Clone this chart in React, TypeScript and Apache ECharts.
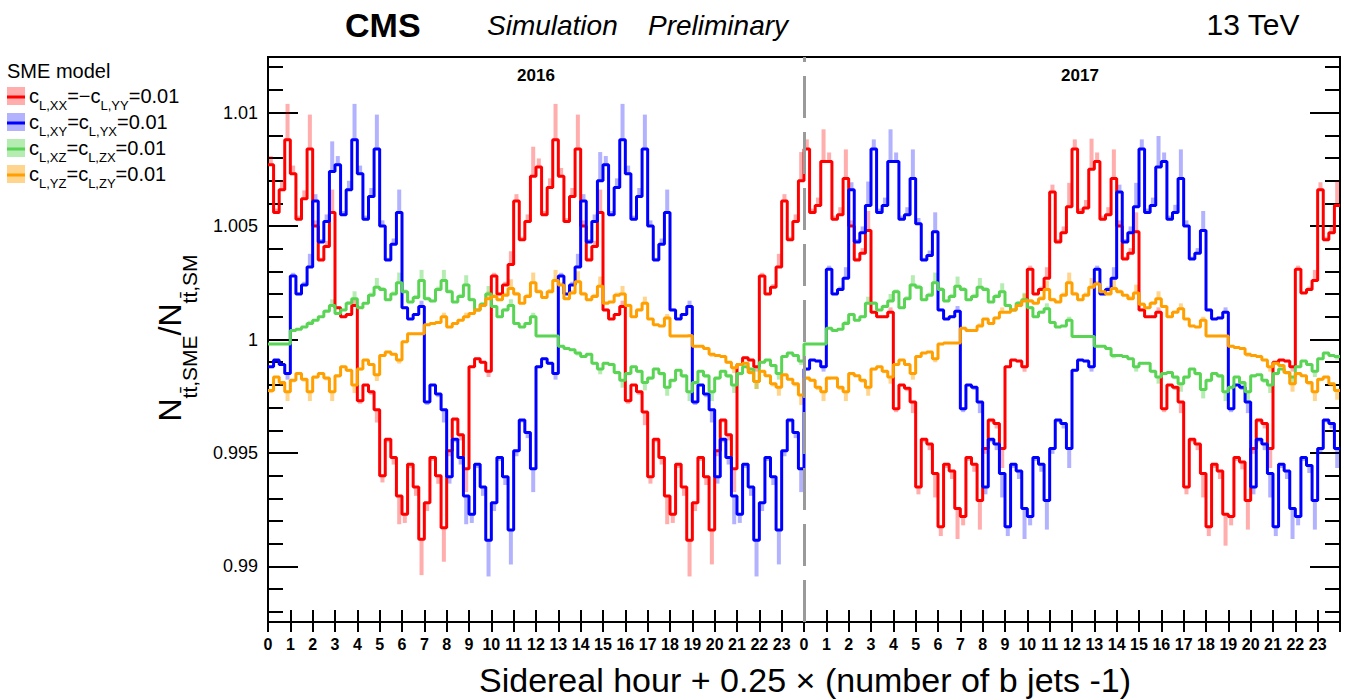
import React, { useEffect, useRef } from 'react';
import * as echarts from 'echarts';

// ---------- data (deviation from 1, in units of 0.001; 4 bins per sidereal hour) ----------
const HOUR_LABELS = Array.from({ length: 24 }, (_, i) => String(i));
const YEAR_LABELS = ['2016', '2017'];
const Y_TICK_VALUES = [0.99, 0.995, 1, 1.005, 1.01];
const BAND_FRAC = [0.05, 0.03, 0.06, 0.18];

const red2016 = [
  7.7, 5.6, 6.6, 8.8, 7.3, 5.3, 6.2, 8.4, 5.0, 3.5, 4.1, 5.6, 1.4, 1.0, 1.1, 1.5,
  -2.7, -2.0, -2.3, -3.1, -6.0, -4.4, -5.2, -6.9, -7.7, -5.5, -6.5, -8.8, -7.2, -5.2, -6.0, -8.3,
  -4.9, -3.5, -4.2, -5.7, -1.2, -0.85, -1.0, -1.4, 2.8, 2.0, 2.4, 3.3, 6.1, 4.4, 5.2, 7.2,
  7.6, 5.5, 6.7, 8.8, 7.2, 5.2, 6.3, 8.4, 5.0, 3.5, 4.1, 5.6, 1.3, 0.9, 1.1, 1.45,
  -2.7, -2.0, -2.3, -3.2, -6.05, -4.4, -5.2, -6.9, -7.7, -5.5, -6.5, -8.85, -7.2, -5.2, -6.05, -8.4,
  -4.9, -3.55, -4.2, -5.7, -1.1, -0.8, -0.9, -1.2, 2.8, 2.0, 2.3, 3.2, 6.1, 4.4, 5.2, 7.0,
];
const red2017 = [
  8.4, 5.6, 5.9, 7.85, 7.85, 5.3, 5.5, 7.1, 5.0, 3.5, 3.8, 4.8, 1.2, 1.0, 1.0, 1.2,
  -3.05, -2.0, -2.15, -2.75, -6.5, -4.4, -4.6, -5.9, -8.25, -5.5, -5.8, -7.45, -7.8, -5.2, -5.5, -7.1,
  -4.8, -3.55, -3.7, -4.8, -1.2, -0.9, -0.95, -1.2, 3.1, 2.0, 2.2, 2.7, 6.5, 4.3, 4.7, 5.85,
  8.4, 5.6, 5.8, 7.5, 7.85, 5.3, 5.5, 7.1, 5.0, 3.55, 3.8, 4.75, 1.3, 1.0, 1.0, 1.2,
  -3.05, -2.0, -2.1, -2.75, -6.5, -4.4, -4.6, -5.9, -8.25, -5.5, -5.8, -7.7, -7.8, -5.2, -5.4, -7.1,
  -4.8, -3.55, -3.7, -4.8, -1.0, -0.9, -0.95, -1.2, 3.1, 2.05, 2.2, 2.6, 6.6, 4.4, 4.7, 5.9,
];
const blue2016 = [
  -1.2, -0.9, -1.1, -1.5, 2.8, 2.0, 2.4, 3.2, 6.1, 4.3, 5.2, 7.4, 7.7, 5.5, 6.6, 8.8,
  7.3, 5.3, 6.3, 8.4, 5.0, 3.5, 4.2, 5.6, 1.4, 0.9, 1.1, 1.45, -2.75, -2.0, -2.4, -3.1,
  -6.05, -4.4, -5.2, -6.9, -7.7, -5.5, -6.5, -8.85, -7.2, -5.2, -6.05, -8.4, -4.9, -3.55, -4.1, -5.7,
  -1.2, -0.85, -1.05, -1.5, 2.8, 2.0, 2.4, 3.2, 6.1, 4.3, 5.2, 7.0, 7.7, 5.5, 6.7, 8.8,
  7.3, 5.3, 6.3, 8.4, 5.0, 3.5, 4.2, 5.6, 1.3, 0.9, 1.1, 1.45, -2.75, -2.0, -2.4, -3.1,
  -6.05, -4.4, -5.2, -6.9, -7.7, -5.5, -6.5, -8.85, -7.2, -5.2, -6.05, -8.4, -4.9, -3.55, -4.1, -5.7,
];
const blue2017 = [
  -1.3, -0.9, -0.95, -1.2, 3.1, 2.0, 2.2, 2.7, 6.6, 4.3, 4.7, 5.9, 8.4, 5.6, 5.9, 7.85,
  7.85, 5.3, 5.5, 7.1, 5.1, 3.5, 3.7, 4.75, 1.3, 0.9, 1.0, 1.25, -3.05, -2.0, -2.1, -2.75,
  -6.5, -4.4, -4.6, -5.9, -8.25, -5.5, -5.8, -7.45, -7.8, -5.2, -5.5, -7.1, -4.8, -3.55, -3.7, -4.8,
  -1.35, -0.9, -0.95, -1.2, 3.1, 2.0, 2.2, 2.7, 6.5, 4.3, 4.7, 5.85, 8.4, 5.6, 5.9, 7.6,
  7.85, 5.3, 5.6, 7.1, 5.0, 3.55, 3.8, 4.8, 1.3, 0.9, 0.95, 1.2, -3.05, -2.0, -2.1, -2.75,
  -6.5, -4.4, -4.6, -5.9, -8.25, -5.5, -5.8, -7.45, -7.8, -5.2, -5.55, -7.1, -4.8, -3.55, -3.7, -4.8,
];
const green2016 = [
  -0.2, -0.2, -0.2, -0.2, 0.4, 0.45, 0.55, 0.7, 0.85, 1.0, 1.25, 1.5, 1.15, 1.3, 1.6, 1.8,
  1.4, 1.6, 1.95, 2.3, 2.2, 1.75, 2.0, 2.5, 2.1, 1.65, 1.85, 2.6, 1.8, 1.7, 2.2, 2.6,
  2.1, 1.65, 1.9, 2.4, 1.75, 1.3, 1.55, 2.0, 1.45, 1.0, 1.3, 1.5, 0.7, 0.55, 0.7, 1.0,
  0.15, 0.15, 0.15, 0.15, -0.3, -0.4, -0.45, -0.6, -0.75, -0.65, -1.05, -1.3, -1.05, -1.1, -1.45, -1.8,
  -1.5, -1.2, -1.4, -1.9, -1.7, -1.3, -1.5, -2.1, -1.8, -1.35, -1.6, -2.3, -1.9, -1.4, -1.6, -2.3,
  -1.7, -1.4, -1.6, -2.0, -1.5, -1.2, -1.3, -1.85, -1.0, -0.9, -1.15, -1.5, -0.75, -0.6, -0.7, -0.95,
];
const green2017 = [
  -0.2, -0.2, -0.2, -0.2, 0.5, 0.4, 0.45, 0.7, 1.1, 0.85, 1.0, 1.6, 1.6, 1.3, 1.45, 1.7,
  2.1, 1.4, 1.8, 2.4, 2.3, 1.75, 1.95, 2.5, 2.2, 1.7, 1.9, 2.35, 2.2, 1.75, 1.9, 2.3,
  2.2, 1.65, 1.9, 2.1, 1.5, 1.3, 1.6, 1.75, 1.4, 1.0, 1.2, 1.35, 0.75, 0.55, 0.6, 0.85,
  0.13, 0.13, 0.13, 0.13, -0.3, -0.3, -0.4, -0.7, -0.7, -0.75, -0.85, -1.2, -1.05, -1.05, -1.4, -1.65,
  -1.5, -1.45, -1.65, -1.95, -1.65, -1.3, -1.5, -2.2, -1.8, -1.5, -1.6, -2.3, -2.1, -1.65, -1.9, -2.3,
  -1.6, -1.55, -1.8, -2.0, -1.5, -1.3, -1.45, -1.65, -1.2, -0.95, -1.1, -1.4, -0.85, -0.6, -0.7, -0.75,
];
const orange2016 = [
  -2.25, -1.65, -1.9, -2.3, -1.8, -1.5, -1.75, -2.3, -1.65, -1.5, -1.7, -2.3, -1.6, -1.2, -1.35, -2.0,
  -1.3, -0.9, -1.1, -1.55, -0.7, -0.55, -0.65, -0.9, -0.1, 0.25, 0.25, 0.25, 0.65, 0.7, 0.75, 1.0,
  0.55, 0.7, 0.85, 1.0, 1.15, 1.3, 1.5, 1.8, 1.9, 1.75, 1.95, 2.25, 2.0, 1.6, 1.9, 2.5,
  2.1, 1.85, 2.1, 2.6, 2.4, 1.8, 2.05, 2.55, 2.0, 1.75, 1.9, 2.35, 1.6, 1.65, 1.95, 2.0,
  1.5, 1.0, 1.3, 1.6, 0.9, 0.65, 0.6, 0.95, 0.15, 0.15, 0.15, 0.18, -0.3, -0.3, -0.4, -0.65,
  -0.7, -0.75, -1.0, -1.25, -1.1, -1.05, -1.45, -1.85, -1.4, -1.6, -1.95, -2.1, -1.55, -1.75, -1.95, -2.45,
];
const orange2017 = [
  -1.7, -1.8, -2.1, -2.3, -1.7, -1.7, -2.1, -2.3, -1.5, -1.6, -1.8, -2.1, -1.3, -1.2, -1.4, -1.65,
  -1.1, -0.9, -1.1, -1.5, -0.75, -0.6, -0.55, -0.85, -0.2, -0.15, -0.15, -0.15, 0.5, 0.4, 0.4, 0.6,
  0.9, 0.7, 0.95, 1.2, 1.2, 1.3, 1.5, 1.7, 1.7, 1.6, 1.8, 2.2, 1.75, 1.65, 1.95, 2.5,
  2.0, 1.75, 1.95, 2.3, 2.45, 2.1, 2.0, 2.25, 2.1, 1.95, 1.8, 2.05, 1.55, 1.4, 1.6, 1.8,
  1.45, 1.0, 1.2, 1.35, 0.9, 0.6, 0.55, 0.85, 0.15, 0.15, 0.15, 0.15, -0.3, -0.35, -0.4, -0.65,
  -0.7, -0.75, -0.9, -1.2, -1.05, -1.15, -1.45, -1.95, -1.5, -1.6, -1.9, -2.3, -1.75, -1.65, -1.95, -2.25,
];

const SERIES = [
  { name: 'xx', values: [...red2016, ...red2017], color: '#ff0000', band: 'rgba(255,0,0,0.32)',
    label: '{c|c}{s|L,XX}{c|=\u2212c}{s|L,YY}{c|=0.01}' },
  { name: 'xy', values: [...blue2016, ...blue2017], color: '#0000ff', band: 'rgba(0,0,255,0.3)',
    label: '{c|c}{s|L,XY}{c|=c}{s|L,YX}{c|=0.01}' },
  { name: 'xz', values: [...green2016, ...green2017], color: '#59d454', band: 'rgba(89,212,84,0.45)',
    label: '{c|c}{s|L,XZ}{c|=c}{s|L,ZX}{c|=0.01}' },
  { name: 'yz', values: [...orange2016, ...orange2017], color: '#ffa000', band: 'rgba(255,160,0,0.45)',
    label: '{c|c}{s|L,YZ}{c|=c}{s|L,ZY}{c|=0.01}' },
];

const FONT = '"Liberation Sans", Arial, Helvetica, sans-serif';
const BIN = 0.25;
const Y_MIN = 0.98755;
const Y_MAX = 1.01245;

function fmtY(v: number) {
  return String(parseFloat(v.toFixed(4)));
}

export default function App() {
  const ref = useRef<HTMLDivElement>(null);
  useEffect(() => {
    if (!ref.current) return;
    const chart = echarts.init(ref.current, null, { renderer: 'svg' });

    const minorTicks: number[] = [];
    for (let k = -12; k <= 12; k++) minorTicks.push(1 + k / 1000);

    const series: any[] = [];
    SERIES.forEach((s) => {
      const bandData = s.values.map((d, i) => {
        const f = BAND_FRAC[i % 4];
        const x0 = i * BIN;
        return [x0 + 0.035, x0 + BIN - 0.035, 1 + d / 1000, 1 + (d * (1 + f)) / 1000];
      });
      series.push({
        type: 'custom',
        silent: true,
        z: 1,
        xAxisIndex: 0,
        yAxisIndex: 0,
        data: bandData,
        encode: { x: [0, 1], y: [2, 3] },
        renderItem: (_p: any, api: any) => {
          const a = api.coord([api.value(0), api.value(2)]);
          const b = api.coord([api.value(1), api.value(3)]);
          return {
            type: 'rect',
            shape: {
              x: a[0],
              y: Math.min(a[1], b[1]),
              width: b[0] - a[0],
              height: Math.max(1, Math.abs(b[1] - a[1])),
            },
            style: { fill: s.band },
          };
        },
      });
    });
    SERIES.forEach((s, si) => {
      const pts: number[][] = s.values.map((d, i) => [i * BIN, 1 + d / 1000]);
      pts.push([s.values.length * BIN, 1 + s.values[s.values.length - 1] / 1000]);
      const line: any = {
        type: 'line',
        name: s.name,
        step: 'end',
        data: pts,
        showSymbol: false,
        symbol: 'none',
        z: 3,
        xAxisIndex: 0,
        yAxisIndex: 0,
        lineStyle: { color: s.color, width: 3 },
        itemStyle: { color: s.color },
      };
      if (si === SERIES.length - 1) {
        line.markLine = {
          silent: true,
          symbol: 'none',
          label: { show: false },
          lineStyle: { color: '#9a9a9a', width: 3, type: [42, 14] },
          data: [{ xAxis: 24 }],
        };
      }
      series.push(line);
    });

    const graphic: any[] = [
      { type: 'text', left: 345, top: 8, style: { text: 'CMS', font: `bold 34px ${FONT}`, fill: '#000' } },
      { type: 'text', left: 487, top: 11, style: { text: 'Simulation', font: `italic 28px ${FONT}`, fill: '#000' } },
      { type: 'text', left: 648, top: 11, style: { text: 'Preliminary', font: `italic 28px ${FONT}`, fill: '#000' } },
      { type: 'text', right: 45, top: 9, style: { text: '13 TeV', font: `30px ${FONT}`, fill: '#000' } },
      { type: 'text', x: 536, y: 75, style: { text: YEAR_LABELS[0], font: `bold 17px ${FONT}`, fill: '#000', align: 'center', verticalAlign: 'middle' } },
      { type: 'text', x: 1080, y: 75, style: { text: YEAR_LABELS[1], font: `bold 17px ${FONT}`, fill: '#000', align: 'center', verticalAlign: 'middle' } },
      { type: 'text', x: 805, y: 680, style: { text: 'Sidereal hour + 0.25 \u00d7 (number of b jets -1)', font: `34px ${FONT}`, fill: '#000', align: 'center', verticalAlign: 'middle' } },
      {
        type: 'text', x: 177, y: 338, rotation: Math.PI / 2,
        style: {
          text: '{n|N}{s|tt\u0304,SME}{n|/N}{s|tt\u0304,SM}',
          align: 'center', verticalAlign: 'middle', fill: '#000',
          rich: {
            n: { fontSize: 32, fontFamily: FONT, lineHeight: 32, verticalAlign: 'top', fill: '#000' },
            s: { fontSize: 21, fontFamily: FONT, verticalAlign: 'top', padding: [25, 0, 0, 0], fill: '#000' },
          },
        },
      },
      { type: 'text', left: 7, top: 61, style: { text: 'SME model', font: `20px ${FONT}`, fill: '#000' } },
    ];
    SERIES.forEach((s, i) => {
      const cy = 96 + i * 26;
      graphic.push({ type: 'rect', shape: { x: 7, y: cy - 9, width: 18, height: 18 }, style: { fill: s.band } });
      graphic.push({ type: 'line', shape: { x1: 7, y1: cy + 1, x2: 25, y2: cy + 1 }, style: { stroke: s.color, lineWidth: 3 } });
      graphic.push({
        type: 'text', x: 29, y: cy - 10,
        style: {
          text: s.label, fill: '#000', verticalAlign: 'top',
          rich: {
            c: { fontSize: 20, fontFamily: FONT, lineHeight: 20, verticalAlign: 'top', fill: '#000' },
            s: { fontSize: 13, fontFamily: FONT, verticalAlign: 'top', padding: [13, 0, 0, 0], fill: '#000' },
          },
        },
      });
    });

    const axisBlack = { color: '#000', width: 2 };
    chart.setOption({
      animation: false,
      backgroundColor: '#fff',
      grid: { left: 268, top: 57, width: 1072, height: 565, show: true, borderColor: '#000', borderWidth: 2, containLabel: false },
      xAxis: [
        {
          type: 'value', min: 0, max: 48, interval: 1, position: 'bottom',
          axisLine: { show: true, lineStyle: axisBlack },
          axisTick: { show: true, inside: false, length: 10, lineStyle: axisBlack },
          axisLabel: {
            show: true, margin: 14, color: '#000', fontSize: 16, fontWeight: 'bold', fontFamily: FONT,
            formatter: (v: number) => (v >= 48 ? '' : HOUR_LABELS[Math.round(v) % 24]),
          },
          splitLine: { show: false },
        },
        {
          type: 'value', min: 0, max: 48, interval: 1, position: 'bottom',
          axisLine: { show: false },
          axisTick: { show: true, inside: true, length: 12, lineStyle: axisBlack },
          axisLabel: { show: false },
          splitLine: { show: false },
        },
      ],
      yAxis: [
        {
          type: 'value', min: Y_MIN, max: Y_MAX, position: 'left',
          axisLine: { show: true, lineStyle: axisBlack },
          axisTick: { show: true, inside: true, length: 30, lineStyle: axisBlack, customValues: Y_TICK_VALUES },
          axisLabel: { show: true, margin: 10, color: '#000', fontSize: 18, fontFamily: FONT, customValues: Y_TICK_VALUES, formatter: (v: number) => fmtY(v) },
          splitLine: { show: false },
        },
        {
          type: 'value', min: Y_MIN, max: Y_MAX, position: 'left',
          axisLine: { show: false },
          axisTick: { show: true, inside: true, length: 15, lineStyle: axisBlack, customValues: minorTicks },
          axisLabel: { show: false },
          splitLine: { show: false },
        },
        {
          type: 'value', min: Y_MIN, max: Y_MAX, position: 'right',
          axisLine: { show: true, lineStyle: axisBlack },
          axisTick: { show: true, inside: true, length: 30, lineStyle: axisBlack, customValues: Y_TICK_VALUES },
          axisLabel: { show: false },
          splitLine: { show: false },
        },
        {
          type: 'value', min: Y_MIN, max: Y_MAX, position: 'right',
          axisLine: { show: false },
          axisTick: { show: true, inside: true, length: 15, lineStyle: axisBlack, customValues: minorTicks },
          axisLabel: { show: false },
          splitLine: { show: false },
        },
      ],
      series,
      graphic,
    });
    return () => chart.dispose();
  }, []);
  return <div ref={ref} style={{ position: 'fixed', left: 0, top: 0, width: 1345, height: 700, background: '#fff' }} />;
}
